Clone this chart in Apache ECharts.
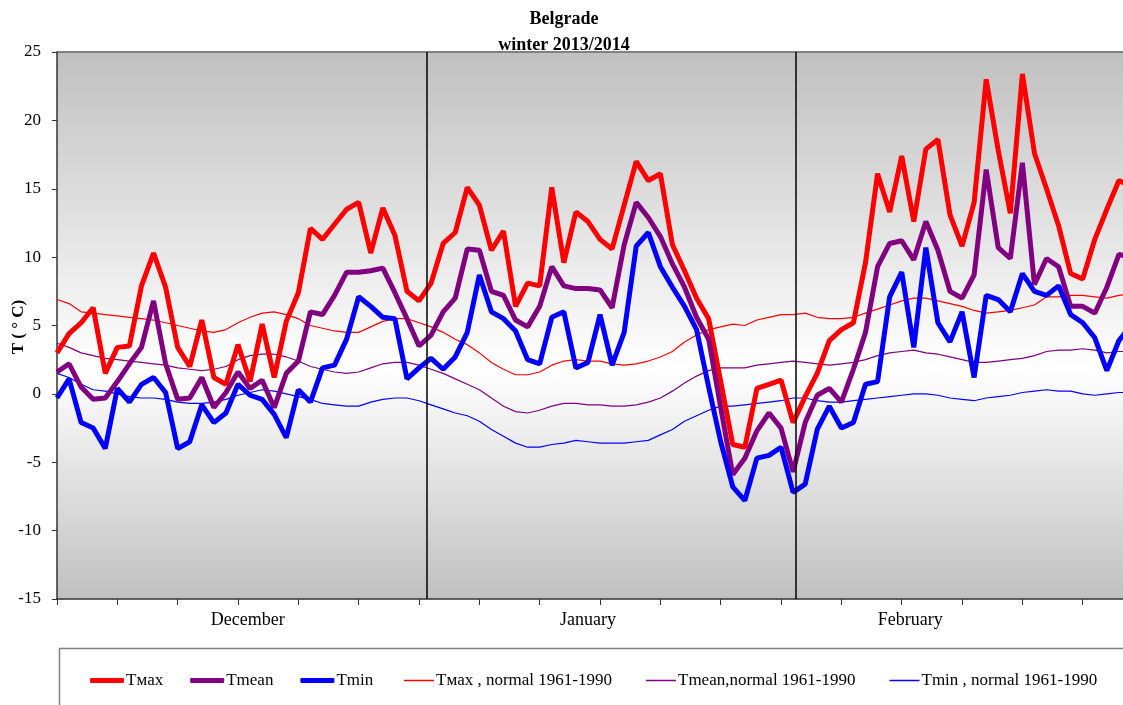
<!DOCTYPE html>
<html lang="en">
<head>
    <meta charset="UTF-8">
    <title>Belgrade winter 2013/2014</title>
    <script src="https://cdn.jsdelivr.net/npm/echarts@6/dist/echarts.min.js"></script>
    <style>
        html, body { margin: 0; padding: 0; background: #fff; }
        #main { width: 1123px; height: 705px; }
    </style>
</head>
<body>
<div id="main"></div>
<script>
    // days: 1 Dec 2013 .. 28 Feb 2014 (index 0..89)
    var months = ['December', 'January', 'February'];
    var monthPos = [15.8, 44, 70.7];
    var monthStart = [30.6, 61.2];   // vertical separators

    var tmax = [3.0, 4.4, 5.2, 6.3, 1.5, 3.4, 3.5, 7.9, 10.3, 7.8,
        3.4, 2.0, 5.4, 1.2, 0.7, 3.6, 0.9, 5.1, 1.2, 5.3,
        7.4, 12.1, 11.3, 12.4, 13.5, 14.0, 10.3, 13.6, 11.6, 7.5,
        6.8, 8.1, 11.0, 11.8, 15.1, 13.8, 10.5, 11.9, 6.4, 8.1,
        7.9, 15.1, 9.6, 13.3, 12.6, 11.3, 10.6, 13.8, 17.0, 15.6,
        16.1, 10.9, 9.0, 7.0, 5.5, 0.9, -3.7, -3.9, 0.4, 0.7,
        1.0, -2.1, -0.2, 1.5, 3.9, 4.7, 5.2, 9.6, 16.1, 13.3,
        17.4, 12.6, 17.9, 18.6, 13.1, 10.8, 14.0, 23.0, 17.8, 13.2,
        23.4, 17.6, 15.0, 12.3, 8.8, 8.4, 11.3, 13.5, 15.6, 15.2];

    var tmean = [1.6, 2.2, 0.5, -0.4, -0.3, 0.9, 2.2, 3.4, 6.8, 2.2,
        -0.4, -0.3, 1.2, -1.0, 0.1, 1.6, 0.4, 1.0, -1.0, 1.5,
        2.4, 6.0, 5.8, 7.2, 8.9, 8.9, 9.0, 9.2, 7.4, 5.5,
        3.5, 4.3, 6.0, 7.0, 10.6, 10.5, 7.5, 7.2, 5.4, 4.9,
        6.4, 9.3, 7.9, 7.7, 7.7, 7.6, 6.3, 10.9, 14.0, 12.9,
        11.5, 9.5, 7.8, 5.6, 4.0, -1.0, -5.9, -4.7, -2.7, -1.4,
        -2.5, -5.7, -2.1, -0.1, 0.4, -0.6, 1.8, 4.5, 9.3, 11.0,
        11.2, 9.8, 12.6, 10.5, 7.5, 7.0, 8.7, 16.4, 10.7, 9.9,
        16.9, 8.0, 9.9, 9.3, 6.4, 6.4, 5.9, 7.8, 10.2, 10.0];

    var tmin = [-0.3, 1.1, -2.1, -2.5, -4.0, 0.4, -0.6, 0.7, 1.2, 0.1,
        -4.0, -3.5, -0.8, -2.1, -1.4, 0.7, -0.1, -0.4, -1.5, -3.2,
        0.3, -0.6, 1.9, 2.1, 4.0, 7.1, 6.4, 5.6, 5.5, 1.1,
        1.9, 2.6, 1.8, 2.7, 4.5, 8.7, 6.0, 5.5, 4.6, 2.5,
        2.2, 5.6, 6.0, 1.9, 2.3, 5.8, 2.1, 4.5, 10.8, 11.8,
        9.3, 7.8, 6.4, 4.7, 0.5, -3.5, -6.8, -7.8, -4.7, -4.5,
        -3.9, -7.2, -6.6, -2.6, -0.9, -2.5, -2.1, 0.7, 0.9, 7.1,
        8.9, 3.4, 10.7, 5.2, 3.8, 6.0, 1.2, 7.2, 6.9, 6.0,
        8.8, 7.5, 7.2, 7.9, 5.8, 5.2, 4.1, 1.7, 3.9, 5.0];

    var tmaxNorm = [6.9, 6.6, 6.0, 5.9, 5.8, 5.7, 5.6, 5.5, 5.4, 5.2,
        5.0, 4.8, 4.6, 4.5, 4.7, 5.2, 5.6, 5.9, 6.0, 5.8,
        5.5, 5.0, 4.8, 4.6, 4.5, 4.5, 4.9, 5.3, 5.5, 5.5,
        5.2, 4.9, 4.5, 4.0, 3.6, 3.0, 2.3, 1.8, 1.4, 1.4,
        1.6, 2.1, 2.4, 2.5, 2.4, 2.4, 2.2, 2.1, 2.2, 2.4,
        2.7, 3.1, 3.8, 4.3, 4.7, 4.9, 5.1, 5.0, 5.4, 5.6,
        5.8, 5.8, 5.9, 5.6, 5.5, 5.5, 5.6, 5.9, 6.2, 6.5,
        6.8, 7.0, 7.0, 6.8, 6.6, 6.4, 6.1, 5.9, 6.0, 6.1,
        6.3, 6.5, 7.1, 7.1, 7.2, 7.2, 7.1, 7.0, 7.2, 7.3];

    var tmeanNorm = [3.7, 3.4, 3.0, 2.8, 2.6, 2.5, 2.4, 2.3, 2.2, 2.1,
        1.9, 1.8, 1.7, 1.8, 2.0, 2.5, 2.8, 2.9, 2.9, 2.7,
        2.4, 2.0, 1.8, 1.6, 1.5, 1.6, 1.9, 2.2, 2.3, 2.3,
        2.1, 1.8, 1.5, 1.1, 0.7, 0.3, -0.3, -0.9, -1.3, -1.4,
        -1.2, -0.9, -0.7, -0.7, -0.8, -0.8, -0.9, -0.9, -0.8, -0.6,
        -0.3, 0.2, 0.8, 1.3, 1.7, 1.9, 1.9, 1.9, 2.1, 2.2,
        2.3, 2.4, 2.3, 2.2, 2.1, 2.2, 2.3, 2.5, 2.8, 3.0,
        3.1, 3.2, 3.0, 2.9, 2.7, 2.5, 2.3, 2.3, 2.4, 2.5,
        2.6, 2.8, 3.1, 3.2, 3.2, 3.3, 3.2, 3.0, 3.1, 3.1];

    var tminNorm = [1.5, 1.2, 0.7, 0.3, 0.2, 0.0, -0.2, -0.3, -0.3, -0.4,
        -0.6, -0.7, -0.7, -0.6, -0.4, -0.1, 0.1, 0.3, 0.2, 0.0,
        -0.2, -0.4, -0.7, -0.8, -0.9, -0.9, -0.6, -0.4, -0.3, -0.3,
        -0.5, -0.8, -1.1, -1.4, -1.6, -2.0, -2.6, -3.1, -3.6, -3.9,
        -3.9, -3.7, -3.6, -3.4, -3.5, -3.6, -3.6, -3.6, -3.5, -3.4,
        -3.0, -2.6, -2.0, -1.6, -1.2, -0.9, -0.9, -0.8, -0.7, -0.6,
        -0.5, -0.3, -0.3, -0.5, -0.6, -0.6, -0.5, -0.4, -0.3, -0.2,
        -0.1, 0.0, 0.0, -0.1, -0.3, -0.4, -0.5, -0.3, -0.2, -0.1,
        0.1, 0.2, 0.3, 0.2, 0.2, 0.0, -0.1, 0.0, 0.1, 0.1];

    var serif = '"Liberation Serif", "DejaVu Serif", serif';

    function pts(arr) {
        return arr.map(function (v, i) { return [i, v]; });
    }

    function line(name, arr, color, width) {
        return {
            name: name,
            type: 'line',
            data: pts(arr),
            symbol: 'none',
            smooth: false,
            lineStyle: { color: color, width: width },
            itemStyle: { color: color },
            z: width > 2 ? 3 : 2
        };
    }

    var series = [
        line('Tмax', tmax, '#ff0000', 5),
        line('Tmean', tmean, '#800080', 5),
        line('Tmin', tmin, '#0000ff', 5),
        line('Tмax , normal 1961-1990', tmaxNorm, '#ff0000', 1.2),
        line('Tmean,normal 1961-1990', tmeanNorm, '#800080', 1.2),
        line('Tmin , normal 1961-1990', tminNorm, '#0000ff', 1.2)
    ];
    // month separators
    series[3].markLine = {
        silent: true,
        symbol: 'none',
        label: { show: false },
        lineStyle: { color: '#000', width: 1.5, type: 'solid' },
        data: monthStart.map(function (x) { return { xAxis: x }; })
    };

    var legendText = { fontFamily: serif, fontSize: 17, color: '#000', padding: [0, 0, 0, -3] };

    var chart = echarts.init(document.getElementById('main'));
    chart.setOption({
        animation: false,
        backgroundColor: '#fff',
        title: {
            text: 'Belgrade\nwinter 2013/2014',
            left: 559,
            textAlign: 'center',
            top: 1,
            textStyle: { fontFamily: serif, fontSize: 18, fontWeight: 'bold', color: '#000', lineHeight: 26 }
        },
        grid: {
            left: 57, right: -8, top: 52, bottom: 106,
            containLabel: false,
            outerBoundsMode: 'none',
            show: true,
            borderWidth: 0,
            backgroundColor: new echarts.graphic.LinearGradient(0, 0, 0, 1, [
                { offset: 0, color: '#c0c0c0' },
                { offset: 0.58, color: '#ffffff' },
                { offset: 1, color: '#c0c0c0' }
            ])
        },
        legend: [{
            left: 85,
            top: 667,
            icon: 'roundRect',
            itemWidth: 34,
            itemHeight: 5,
            itemGap: 27,
            textStyle: legendText,
            data: series.slice(0, 3).map(function (s) { return s.name; })
        }, {
            left: 399,
            top: 667,
            icon: 'rect',
            itemWidth: 30,
            itemHeight: 1.5,
            itemGap: 34,
            textStyle: legendText,
            data: series.slice(3).map(function (s) { return s.name; })
        }],
        graphic: [{
            type: 'rect',
            left: 57, top: 646,
            shape: { width: 1100, height: 100 },
            style: { fill: 'none', stroke: '#808080', lineWidth: 1.5 },
            silent: true
        }, {
            type: 'line',
            shape: { x1: 57, y1: 52, x2: 1123, y2: 52 },
            style: { stroke: '#808080', lineWidth: 2 },
            silent: true
        }, {
            type: 'text',
            x: 19, y: 327,
            rotation: Math.PI / 2,
            style: {
                text: 'T ( ° C)',
                fontFamily: serif, fontSize: 17, fontWeight: 'bold', fill: '#000',
                align: 'center', verticalAlign: 'middle'
            },
            silent: true
        }],
        xAxis: [{
            type: 'value',
            min: 0, max: 89, interval: 5,
            axisLine: { show: true, onZero: false, lineStyle: { color: '#333', width: 1.5 } },
            axisTick: { show: true, length: 6, lineStyle: { color: '#333' } },
            axisLabel: { show: false },
            splitLine: { show: false }
        }, {
            type: 'value',
            min: 0, max: 89,
            position: 'bottom',
            axisLine: { show: false, onZero: false },
            axisTick: { show: false },
            splitLine: { show: false },
            axisLabel: {
                customValues: monthPos,
                margin: 12,
                fontFamily: serif, fontSize: 18, color: '#000',
                formatter: function (v) { return months[monthPos.indexOf(v)]; }
            }
        }],
        yAxis: {
            type: 'value',
            min: -15, max: 25, interval: 5,
            axisLine: { show: true, lineStyle: { color: '#333', width: 1.5 } },
            axisTick: { show: true, length: 5, lineStyle: { color: '#333' } },
            axisLabel: { margin: 16, fontFamily: serif, fontSize: 17, color: '#000' },
            splitLine: { show: false }
        },
        series: series
    });
</script>
</body>
</html>
